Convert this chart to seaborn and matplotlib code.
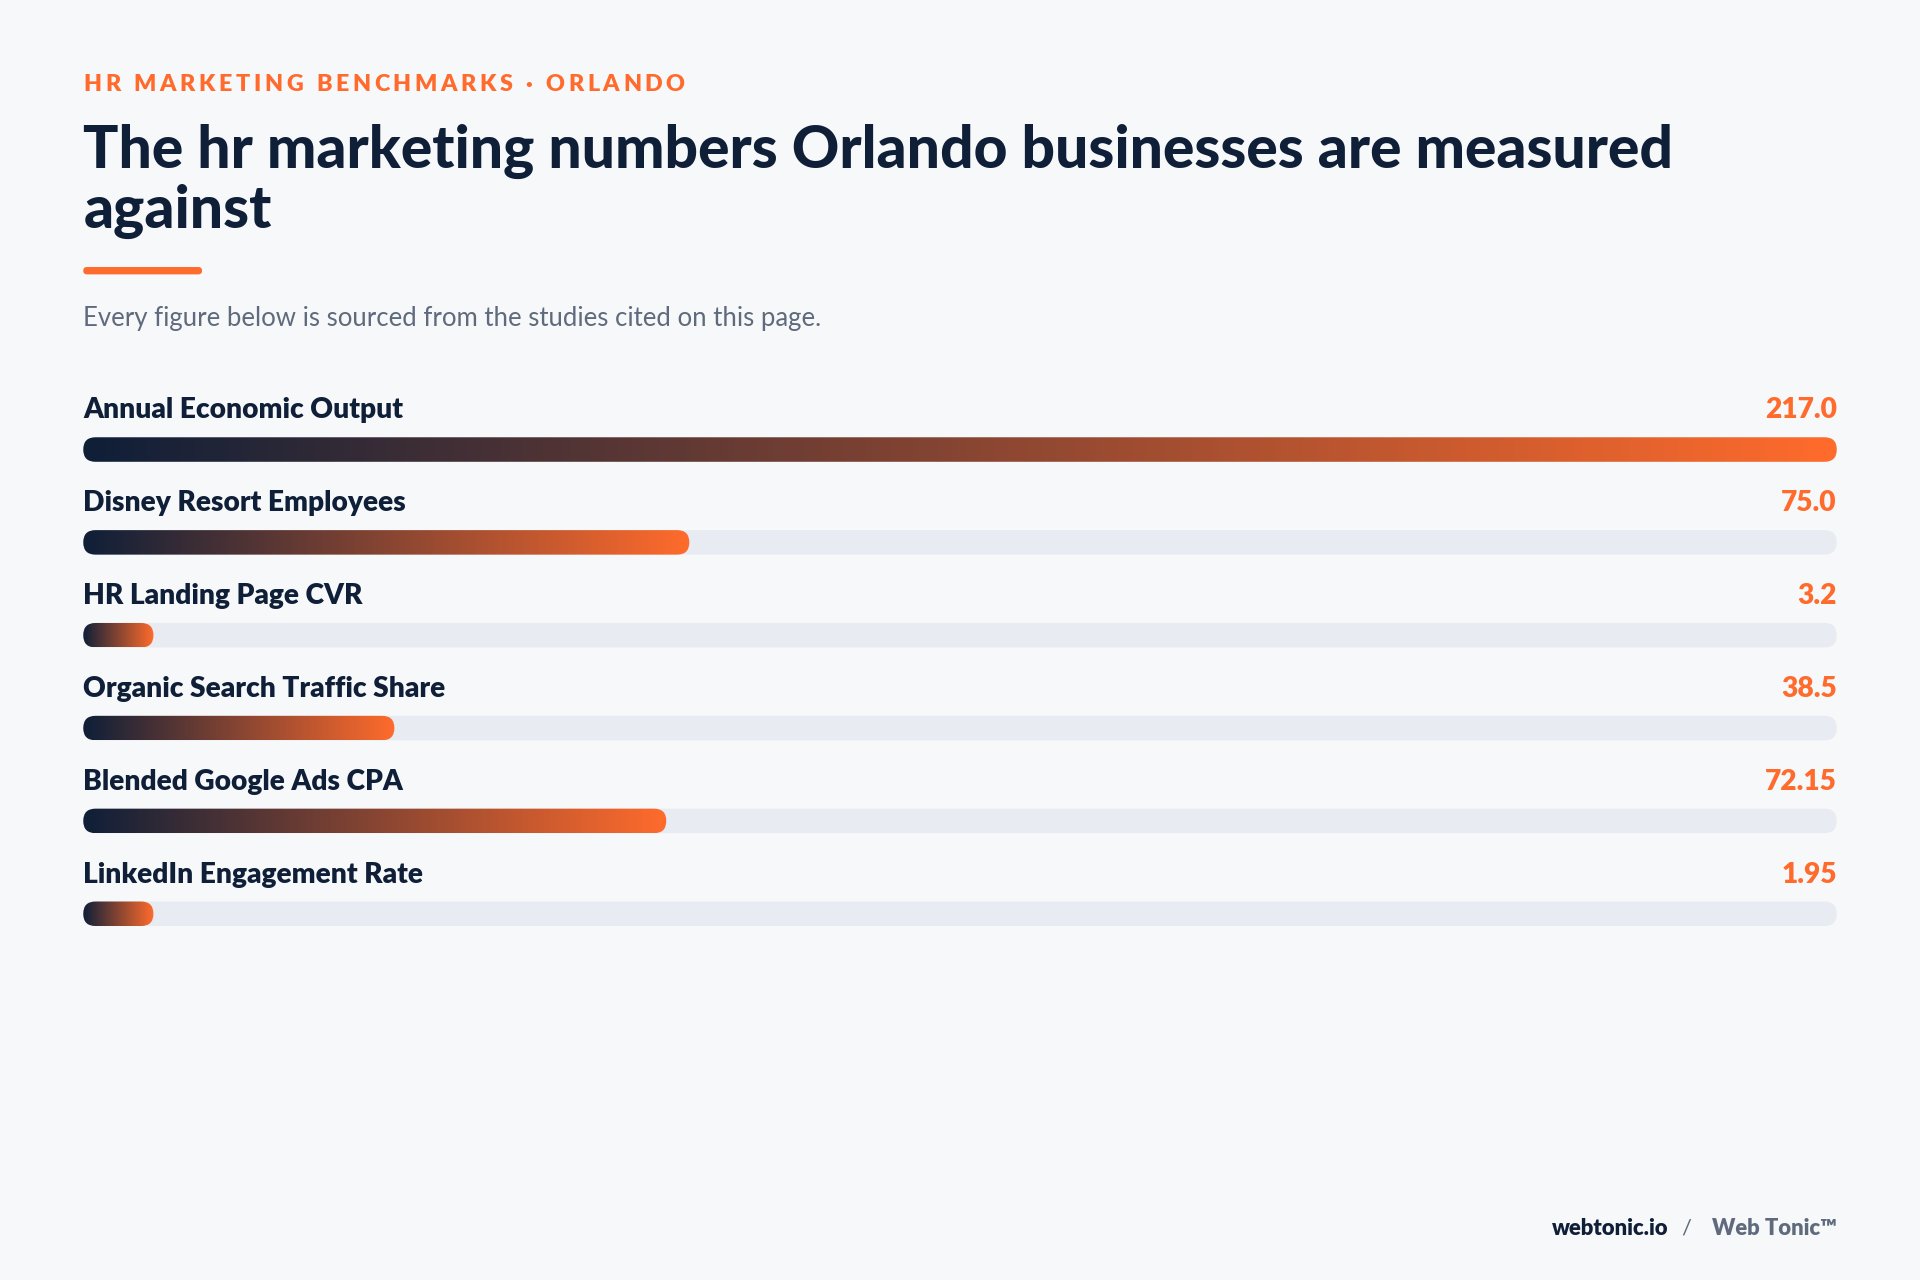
import numpy as np
import matplotlib
matplotlib.use("Agg")
import matplotlib.pyplot as plt
import seaborn as sns
from matplotlib.patches import FancyBboxPatch
from matplotlib.colors import LinearSegmentedColormap

labels = ["Annual Economic Output", "Disney Resort Employees", "HR Landing Page CVR",
          "Organic Search Traffic Share", "Blended Google Ads CPA", "LinkedIn Engagement Rate"]
values = [217.0, 75.0, 3.2, 38.5, 72.15, 1.95]
value_text = ["217.0", "75.0", "3.2", "38.5", "72.15", "1.95"]

sns.set_theme(style="white")
plt.rcParams['font.family'] = ['Lato', 'DejaVu Sans']

BG = "#f7f8fa"
NAVY = "#0f1f38"
ORANGE = "#ff6b2c"
TRACK = "#e8ebf1"
GREY = "#5f6b7d"
cmap = LinearSegmentedColormap.from_list("g", [NAVY, ORANGE])

# canvas in reference pixel units (1568 x 1045)
W, H = 1568, 1045
fig = plt.figure(figsize=(19.2, 12.8), dpi=100, facecolor=BG)
ax = fig.add_axes([0, 0, 1, 1])
ax.set_xlim(0, W)
ax.set_ylim(H, 0)
ax.set_facecolor(BG)
ax.axis("off")

pt = 1920 / W * 0.72  # ref px -> points

# eyebrow with wide letter spacing, drawn char by char
eyebrow = "HR MARKETING BENCHMARKS · ORLANDO"
t = ax.text(68, 69, eyebrow, color=ORANGE, fontsize=19 * pt, fontweight="heavy",
            va="center", ha="left")
fig.canvas.draw()
r = fig.canvas.get_renderer()
natural = t.get_window_extent(r).width
t.remove()
target = (557 - 68) * 1920 / W
spacing = (target - natural) / (len(eyebrow) - 1)
xpix = ax.transData.transform((68, 69))[0]
inv = ax.transData.inverted()
for ch in eyebrow:
    c = ax.text(inv.transform((xpix, 0))[0], 69, ch, color=ORANGE, fontsize=19 * pt,
                fontweight="heavy", va="center", ha="left")
    wch = c.get_window_extent(r).width if ch != " " else 19 * pt * 0.26 * 100 / 72
    xpix += wch + spacing

ax.text(68, 148, "The hr marketing numbers Orlando businesses are measured\nagainst",
        color=NAVY, fontsize=48 * pt, fontweight="black", va="center", ha="left",
        linespacing=1.1)
ax.add_patch(FancyBboxPatch((68, 218), 97, 6, boxstyle="round,pad=0,rounding_size=3",
                            fc=ORANGE, ec="none"))
ax.text(68, 260, "Every figure below is sourced from the studies cited on this page.",
        color=GREY, fontsize=21 * pt, va="center", ha="left")

x0, x1 = 68, 1500
bh = 20
vmax = max(values)
grad = np.linspace(0, 1, 512).reshape(1, -1)
for i, (lab, v, vt) in enumerate(zip(labels, values, value_text)):
    ly = 335 + i * 75.8
    by = ly + 32
    ax.text(x0, ly, lab, color=NAVY, fontsize=23 * pt, fontweight="heavy", va="center", ha="left")
    ax.text(x1, ly, vt, color=ORANGE, fontsize=23 * pt, fontweight="heavy", va="center", ha="right")
    ax.add_patch(FancyBboxPatch((x0, by - bh / 2), x1 - x0, bh,
                                boxstyle="round,pad=0,rounding_size=10", fc=TRACK, ec="none",
                                zorder=1))
    frac = max(v / vmax, 0.04)
    w = (x1 - x0) * frac
    clip = FancyBboxPatch((x0, by - bh / 2), w, bh, boxstyle="round,pad=0,rounding_size=10",
                          fc="none", ec="none", transform=ax.transData)
    im = ax.imshow(grad, cmap=cmap, aspect="auto", extent=(x0, x0 + w, by + bh / 2, by - bh / 2),
                   interpolation="bicubic", zorder=2)
    im.set_clip_path(clip)

ax.set_xlim(0, W)
ax.set_ylim(H, 0)

ax.text(1363, 1003, "webtonic.io", color=NAVY, fontsize=18 * pt, fontweight="heavy",
        va="center", ha="right")
ax.text(1377, 1003, "/", color=GREY, fontsize=18 * pt, va="center", ha="center")
ax.text(1500, 1003, "Web Tonic™", color=GREY, fontsize=18 * pt, fontweight="heavy",
        va="center", ha="right")

fig.savefig("out.png", dpi=100, facecolor=BG)
